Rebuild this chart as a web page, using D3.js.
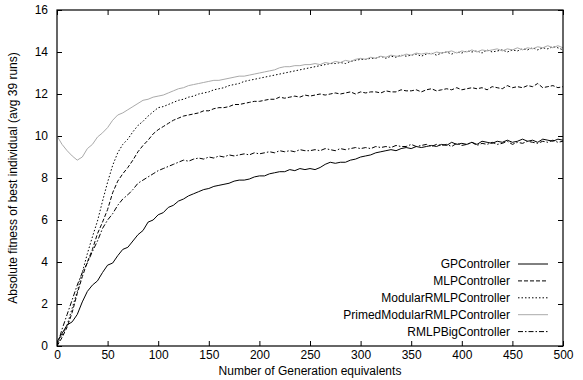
<!DOCTYPE html>
<html>
<head>
<meta charset="utf-8">
<script src="https://cdn.jsdelivr.net/npm/d3@7"></script>
<style>
body { margin: 0; background: #fff; }
svg { font-family: "Liberation Sans", Arial, sans-serif; }
</style>
</head>
<body>
<div id="chart"></div>
<script>
// generations sampled every 5
var generations = d3.range(0, 501, 5);

var gp = [0.2,0.6,1.0,1.15,1.5,2.1,2.6,2.9,3.1,3.5,3.85,3.95,4.3,4.6,4.7,5.0,5.3,5.5,5.9,6.0,
  6.25,6.35,6.6,6.7,6.9,7.0,7.15,7.25,7.35,7.45,7.5,7.6,7.65,7.7,7.75,7.85,7.9,7.9,7.95,8.05,
  8.1,8.1,8.2,8.25,8.3,8.3,8.4,8.35,8.45,8.4,8.45,8.4,8.5,8.65,8.75,8.7,8.75,8.75,8.85,8.9,
  9.0,9.05,9.1,9.2,9.25,9.3,9.35,9.3,9.4,9.45,9.4,9.5,9.45,9.5,9.55,9.5,9.6,9.55,9.7,9.6,
  9.65,9.6,9.7,9.6,9.75,9.7,9.65,9.75,9.7,9.8,9.7,9.75,9.85,9.75,9.8,9.7,9.85,9.8,9.75,9.85,9.8];

var mlp = [0.0,0.4,0.9,1.6,2.5,3.3,4.0,4.6,5.35,5.9,6.5,7.3,7.85,8.2,8.5,8.85,9.25,9.55,9.8,10.1,
  10.3,10.45,10.6,10.75,10.85,10.95,11.0,11.05,11.1,11.2,11.2,11.3,11.35,11.35,11.4,11.5,11.5,11.55,11.6,11.65,
  11.65,11.7,11.75,11.75,11.85,11.8,11.85,11.9,11.85,11.95,11.9,11.95,12.0,11.95,12.0,12.05,12.0,12.05,12.1,12.0,
  12.1,12.05,12.1,12.1,12.05,12.15,12.1,12.1,12.2,12.15,12.15,12.2,12.1,12.2,12.25,12.15,12.2,12.25,12.2,12.3,
  12.2,12.25,12.3,12.25,12.3,12.2,12.35,12.3,12.25,12.4,12.3,12.35,12.3,12.4,12.35,12.5,12.3,12.35,12.4,12.3,12.35];

var modular = [0.1,0.5,1.0,1.8,2.6,3.5,4.4,5.2,5.95,6.9,7.8,8.6,9.2,9.6,9.85,10.2,10.5,10.7,10.95,11.15,
  11.35,11.4,11.5,11.6,11.7,11.75,11.85,11.9,12.0,12.05,12.1,12.2,12.25,12.3,12.4,12.45,12.5,12.6,12.65,12.7,
  12.75,12.8,12.85,12.9,12.95,13.0,13.05,13.1,13.15,13.2,13.25,13.3,13.35,13.4,13.45,13.45,13.5,13.45,13.55,13.6,
  13.65,13.65,13.7,13.7,13.8,13.7,13.8,13.75,13.85,13.8,13.85,13.9,13.8,13.9,13.95,13.85,13.95,14.0,13.9,14.0,
  13.95,14.05,14.0,14.05,13.95,14.1,14.0,14.05,14.1,14.0,14.1,14.05,14.15,14.1,14.2,14.1,14.2,14.15,14.25,14.2,14.1];

var primed = [10.0,9.6,9.3,9.05,8.85,9.0,9.4,9.6,9.95,10.15,10.4,10.75,11.0,11.1,11.25,11.4,11.55,11.7,11.75,11.85,
  11.9,11.95,12.05,12.15,12.25,12.3,12.4,12.45,12.5,12.55,12.6,12.65,12.65,12.7,12.75,12.8,12.85,12.85,12.9,12.95,
  13.0,13.05,13.1,13.15,13.25,13.3,13.3,13.35,13.35,13.4,13.4,13.45,13.4,13.5,13.45,13.55,13.5,13.6,13.55,13.65,
  13.7,13.65,13.75,13.7,13.8,13.75,13.85,13.8,13.8,13.9,13.85,13.95,13.9,13.95,13.9,14.0,13.95,14.0,14.05,13.95,
  14.05,14.0,14.1,14.0,14.1,14.05,14.1,14.15,14.05,14.15,14.1,14.2,14.1,14.2,14.15,14.25,14.2,14.3,14.2,14.3,14.2];

var rmlpBig = [0.0,0.8,1.5,2.2,2.9,3.5,3.95,4.5,5.0,5.6,6.0,6.3,6.7,7.0,7.2,7.45,7.75,7.9,8.05,8.2,
  8.35,8.45,8.55,8.65,8.75,8.85,8.8,8.9,8.95,8.9,9.0,8.95,9.05,9.0,9.1,9.05,9.1,9.15,9.1,9.2,
  9.15,9.2,9.25,9.2,9.3,9.25,9.3,9.25,9.35,9.3,9.3,9.35,9.3,9.4,9.35,9.3,9.4,9.35,9.4,9.45,
  9.4,9.45,9.4,9.5,9.45,9.5,9.45,9.55,9.5,9.5,9.6,9.5,9.55,9.6,9.5,9.6,9.55,9.6,9.5,9.65,
  9.55,9.6,9.7,9.55,9.65,9.6,9.7,9.6,9.65,9.75,9.6,9.7,9.65,9.75,9.7,9.65,9.75,9.7,9.8,9.7,9.75];

var seriesNames = ["GPController", "MLPController", "ModularRMLPController", "PrimedModularRMLPController", "RMLPBigController"];
var seriesValues = [gp, mlp, modular, primed, rmlpBig];
var xTicks = [0, 50, 100, 150, 200, 250, 300, 350, 400, 450, 500];
var yTicks = [0, 2, 4, 6, 8, 10, 12, 14, 16];

// line styles per series (gnuplot look)
var styles = [
    { stroke: "#000", dash: null, width: 1 },
    { stroke: "#000", dash: "4,2", width: 1 },
    { stroke: "#000", dash: "1.5,2", width: 1 },
    { stroke: "#aaa", dash: null, width: 1 },
    { stroke: "#000", dash: "5,2,1.5,2", width: 1 }
];

var margin = { top: 10, right: 20, bottom: 34, left: 57 },
    width = 583 - margin.left - margin.right,
    height = 380 - margin.top - margin.bottom;

var svg = d3.select("#chart")
    .append("svg")
    .attr("width", 583)
    .attr("height", 380)
    .append("g")
    .attr("transform", "translate(" + margin.left + "," + margin.top + ")");

var x = d3.scaleLinear().domain([0, 500]).range([0, width]);
var y = d3.scaleLinear().domain([0, 16]).range([height, 0]);

// ticks pointing inward, mirrored on all four sides
function styleAxis(g) {
    g.select(".domain").remove();
    g.selectAll("text").attr("font-size", 12).attr("fill", "#000");
    g.selectAll("line").attr("stroke", "#000");
}

svg.append("g")
    .attr("transform", "translate(0," + height + ")")
    .call(d3.axisBottom(x).tickValues(xTicks).tickSizeInner(-5).tickSizeOuter(0).tickPadding(4))
    .call(styleAxis);
svg.append("g")
    .call(d3.axisTop(x).tickValues(xTicks).tickSizeInner(-5).tickSizeOuter(0).tickFormat(""))
    .call(styleAxis);
svg.append("g")
    .call(d3.axisLeft(y).tickValues(yTicks).tickSizeInner(-5).tickSizeOuter(0).tickPadding(9))
    .call(styleAxis);
svg.append("g")
    .attr("transform", "translate(" + width + ",0)")
    .call(d3.axisRight(y).tickValues(yTicks).tickSizeInner(-5).tickSizeOuter(0).tickFormat(""))
    .call(styleAxis);

svg.append("defs").append("clipPath").attr("id", "clip")
    .append("rect").attr("width", width).attr("height", height);

var line = d3.line()
    .x(function (d, i) { return x(generations[i]); })
    .y(function (d) { return y(d); });

svg.append("g")
    .attr("clip-path", "url(#clip)")
    .selectAll("path")
    .data(seriesValues)
    .enter()
    .append("path")
    .attr("fill", "none")
    .attr("stroke", function (d, i) { return styles[i].stroke; })
    .attr("stroke-width", function (d, i) { return styles[i].width; })
    .attr("stroke-dasharray", function (d, i) { return styles[i].dash; })
    .attr("d", line);

// frame
svg.append("rect")
    .attr("width", width)
    .attr("height", height)
    .attr("fill", "none")
    .attr("stroke", "#000")
    .attr("stroke-width", 1.2);

// legend
var legend = svg.append("g")
    .attr("transform", "translate(" + (width - 53) + "," + (height - 82) + ")");
var rows = legend.selectAll("g")
    .data(seriesNames)
    .enter()
    .append("g")
    .attr("transform", function (d, i) { return "translate(0," + (i * 16.9) + ")"; });
rows.append("text")
    .attr("text-anchor", "end")
    .attr("dy", "0.35em")
    .attr("font-size", 12)
    .text(function (d) { return d; });
rows.append("line")
    .attr("x1", 8).attr("x2", 38)
    .attr("stroke", function (d, i) { return styles[i].stroke; })
    .attr("stroke-dasharray", function (d, i) { return styles[i].dash; });

// axis titles
svg.append("text")
    .attr("x", width / 2)
    .attr("y", height + 29)
    .attr("text-anchor", "middle")
    .attr("font-size", 12)
    .text("Number of Generation equivalents");
svg.append("text")
    .attr("transform", "rotate(-90)")
    .attr("x", -height / 2)
    .attr("y", -40)
    .attr("text-anchor", "middle")
    .attr("font-size", 12)
    .text("Absolute fitness of best individual (avg 39 runs)");
</script>
</body>
</html>
